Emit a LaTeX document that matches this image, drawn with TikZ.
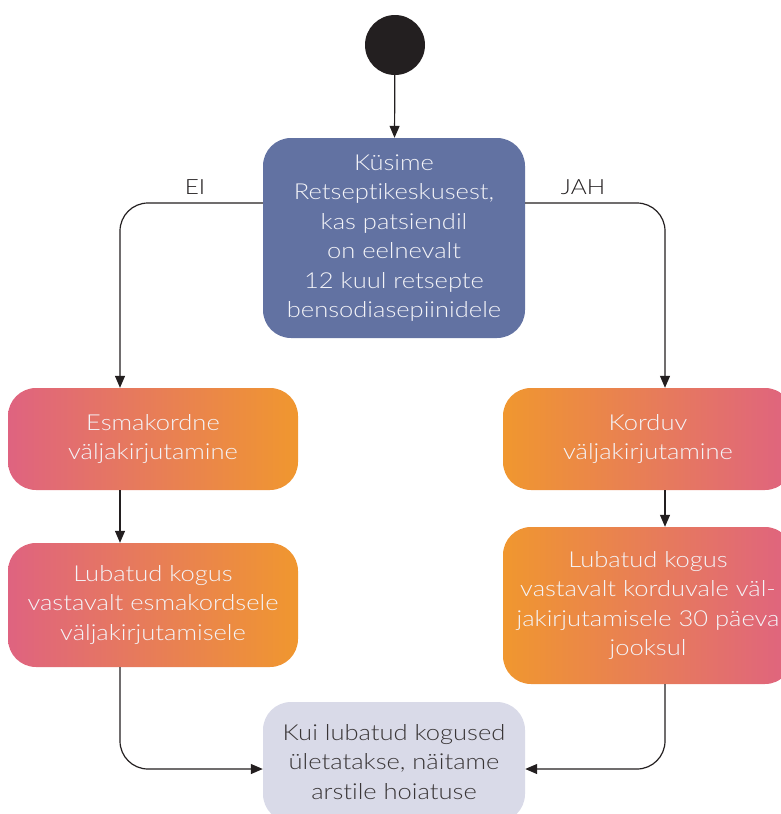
\documentclass[tikz,border=0pt]{standalone}
\usepackage{fontspec}
\setmainfont{Lato Light}[FakeStretch=1.16, Ligatures={NoCommon}]
\usetikzlibrary{arrows.meta}
\definecolor{topblue}{HTML}{6272A2}
\definecolor{pinkc}{HTML}{DF6380}
\definecolor{orangec}{HTML}{F0972F}
\definecolor{graybox}{HTML}{D9DAE8}
\definecolor{darkc}{HTML}{231F20}
\definecolor{textwhite}{HTML}{F4F4F8}
\begin{document}
\begin{tikzpicture}[x=1pt,y=-1pt,
  box/.style={rounded corners=28pt, align=center, text=textwhite, inner sep=0pt,
    font=\fontsize{22pt}{29.5pt}\selectfont},
  startc/.style={circle, fill=darkc, minimum size=60pt, inner sep=0pt},
  lbl/.style={text=darkc, font=\fontsize{21pt}{25pt}\selectfont, inner sep=0pt},
  arr/.style={draw=darkc, line width=1.2pt, -{Triangle[length=12pt,width=10pt]}},
]
\useasboundingbox (0,0) rectangle (781,814);
\clip (0,0) rectangle (781,814);

\node[startc] (start) at (395,45) {};
\node[box, fill=topblue, minimum width=262pt, minimum height=200pt] (q) at (394,238)
  {Küsime\\Retseptikeskusest,\\kas patsiendil\\on eelnevalt\\12 kuul retsepte\\bensodiasepiinidele};
\node[box, left color=pinkc, right color=orangec, minimum width=290pt, minimum height=102pt] (e1) at (153,439)
  {Esmakordne\\väljakirjutamine};
\node[box, left color=pinkc, right color=orangec, minimum width=290pt, minimum height=124pt] (e2) at (153,605)
  {Lubatud kogus\\vastavalt esmakordsele\\väljakirjutamisele};
\node[box, left color=orangec, right color=pinkc, minimum width=290pt, minimum height=102pt] (k1) at (648,439)
  {Korduv\\väljakirjutamine};
\node[box, left color=orangec, right color=pinkc, minimum width=290pt, minimum height=157pt] (k2) at (648,605.5)
  {Lubatud kogus\\vastavalt korduvale väl-\\jakirjutamisele 30 päeva\\jooksul};
\node[box, fill=graybox, text=darkc!90, minimum width=262pt, minimum height=120pt] (w) at (394,762)
  {Kui lubatud kogused\\ületatakse, näitame\\arstile hoiatuse};

\node[lbl] (ei) at (195,187) {EI};
\node[lbl] (jah) at (583,187) {JAH};

\draw[arr] (start) -- (q);
\draw[arr, rounded corners=28pt] ([yshift=35pt]q.west) -| ([xshift=-33pt]e1.north);
\draw[arr, rounded corners=28pt] ([yshift=35pt]q.east) -| ([xshift=17pt]k1.north);
\draw[arr] ([xshift=-33pt]e1.south) -- ([xshift=-33pt]e2.north);
\draw[arr] ([xshift=17pt]k1.south) -- ([xshift=17pt]k2.north);
\draw[arr, rounded corners=28pt] ([xshift=-33pt]e2.south) |- ([yshift=-7pt]w.west);
\draw[arr, rounded corners=28pt] ([xshift=17pt]k2.south) |- ([yshift=-7pt]w.east);
\end{tikzpicture}
\end{document}
